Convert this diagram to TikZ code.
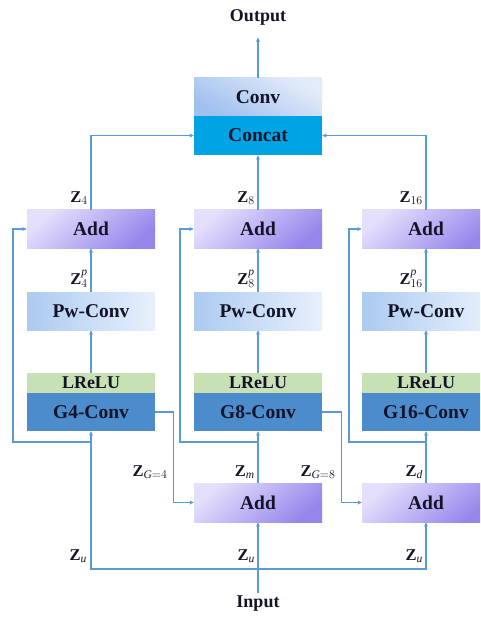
\documentclass[tikz,border=0pt]{standalone}
\usepackage{fontspec}
\setmainfont{Liberation Serif}
\usetikzlibrary{arrows.meta}
\definecolor{ln}{RGB}{91,155,213}
\definecolor{addA}{RGB}{228,224,252}
\definecolor{addB}{RGB}{150,134,236}
\definecolor{pwA}{RGB}{172,203,240}
\definecolor{pwB}{RGB}{232,240,252}
\definecolor{cvA}{RGB}{160,192,238}
\definecolor{cvB}{RGB}{228,236,250}
\definecolor{concatc}{RGB}{0,164,228}
\definecolor{lreluc}{RGB}{199,224,180}
\definecolor{gconvc}{RGB}{76,140,204}
\definecolor{txt}{RGB}{20,20,40}
\begin{document}
\begin{tikzpicture}[x=1pt,y=-1pt,
  box/.style={rectangle,inner sep=0pt,minimum width=128pt,minimum height=38pt,
    font=\fontsize{19.5}{21}\selectfont\bfseries,text=txt},
  addbox/.style={box,shading=axis,top color=addA,bottom color=addB,shading angle=40},
  pwbox/.style={box,left color=pwA,right color=pwB},
  cvbox/.style={box,shading=axis,top color=cvB,bottom color=cvA,shading angle=-30},
  catbox/.style={box,fill=concatc,minimum height=39pt},
  lrbox/.style={box,fill=lreluc,minimum height=20pt,font=\fontsize{18}{20}\selectfont\bfseries},
  gbox/.style={box,fill=gconvc},
  lab/.style={font=\fontsize{16.5}{18}\selectfont,text=txt,inner sep=1pt},
  ttl/.style={font=\fontsize{18}{20}\selectfont\bfseries,text=txt},
  arr/.style={draw=ln,line width=1.2pt,-{Stealth[length=4.5pt,width=4pt]}},
  wire/.style={draw=ln,line width=1.2pt}]
\useasboundingbox (0,0) rectangle (480,617);
\clip (0,0) rectangle (480,617);
\fill[white] (0,0) rectangle (480,617);

% top
\node[ttl] (out) at (258,17) {Output};
\node[cvbox] (conv) at (258,97) {Conv};
\node[catbox] (concat) at (258,135.5) {Concat};

% add row
\node[addbox] (add4) at (91,229) {Add};
\node[addbox] (add8) at (258,229) {Add};
\node[addbox] (add16) at (426,229) {Add};

% pw row
\node[pwbox] (pw4) at (91,311) {Pw-Conv};
\node[pwbox] (pw8) at (258,311) {Pw-Conv};
\node[pwbox] (pw16) at (426,311) {Pw-Conv};

% lrelu row
\node[lrbox] (lr4) at (91,383) {LReLU};
\node[lrbox] (lr8) at (258,383) {LReLU};
\node[lrbox] (lr16) at (426,383) {LReLU};

% gconv row
\node[gbox] (g4) at (91,412) {G4-Conv};
\node[gbox] (g8) at (258,412) {G8-Conv};
\node[gbox] (g16) at (426,412) {G16-Conv};

% bottom adds
\node[addbox,minimum height=39pt] (addm) at (258,502.5) {Add};
\node[addbox,minimum height=39pt] (addd) at (426,502.5) {Add};

\node[ttl] (in) at (258,604) {Input};

% coordinates
\coordinate (zub) at (258,569);
\coordinate (r4) at (91,442);
\coordinate (l4) at (13,442);
\coordinate (r8) at (258,442);
\coordinate (l8) at (180,442);
\coordinate (r16) at (426,442);
\coordinate (l16) at (349,442);

% connectors up
\draw[arr,shorten >=9pt] (conv.north) -- (out.south);
\draw[arr] (add4.north) |- (concat.west);
\draw[arr] (add8.north) -- (concat.south);
\draw[arr] (add16.north) |- (concat.east);
\draw[arr] (pw4.north) -- (add4.south);
\draw[arr] (pw8.north) -- (add8.south);
\draw[arr] (pw16.north) -- (add16.south);
\draw[arr] (lr4.north) -- (pw4.south);
\draw[arr] (lr8.north) -- (pw8.south);
\draw[arr] (lr16.north) -- (pw16.south);

% input
\draw[arr] (in.north) -- (addm.south);
\draw[arr] (zub) -| (g4.south);
\draw[arr] (zub) -| (addd.south);

% residuals
\draw[arr] (r4) -- (l4) |- (add4.west);
\draw[arr] (r8) -- (l8) |- (add8.west);
\draw[arr] (r16) -- (l16) |- (add16.west);

% group outputs to bottom adds
\draw[arr] (g4.east) -- ++(18,0) |- (addm.west);
\draw[arr] (g8.east) -- ++(19,0) |- (addd.west);
\draw[arr] (addm.north) -- (g8.south);
\draw[arr] (addd.north) -- (g16.south);

% labels
\node[lab,anchor=east] at (89,198) {$\mathbf{Z}_{4}$};
\node[lab,anchor=east] at (256,198) {$\mathbf{Z}_{8}$};
\node[lab,anchor=east] at (424,198) {$\mathbf{Z}_{16}$};
\node[lab,anchor=east] at (89,279) {$\mathbf{Z}^{\mathit{p}}_{4}$};
\node[lab,anchor=east] at (256,279) {$\mathbf{Z}^{\mathit{p}}_{8}$};
\node[lab,anchor=east] at (424,279) {$\mathbf{Z}^{\mathit{p}}_{16}$};
\node[lab] at (150,472) {$\mathbf{Z}_{\mathit{G}=4}$};
\node[lab,anchor=east] at (256,472) {$\mathbf{Z}_{\mathit{m}}$};
\node[lab] at (318,472) {$\mathbf{Z}_{\mathit{G}=8}$};
\node[lab,anchor=east] at (424,472) {$\mathbf{Z}_{\mathit{d}}$};
\node[lab,anchor=east] at (88,556) {$\mathbf{Z}_{\mathit{u}}$};
\node[lab,anchor=east] at (256,556) {$\mathbf{Z}_{\mathit{u}}$};
\node[lab,anchor=east] at (424,556) {$\mathbf{Z}_{\mathit{u}}$};
\end{tikzpicture}
\end{document}
